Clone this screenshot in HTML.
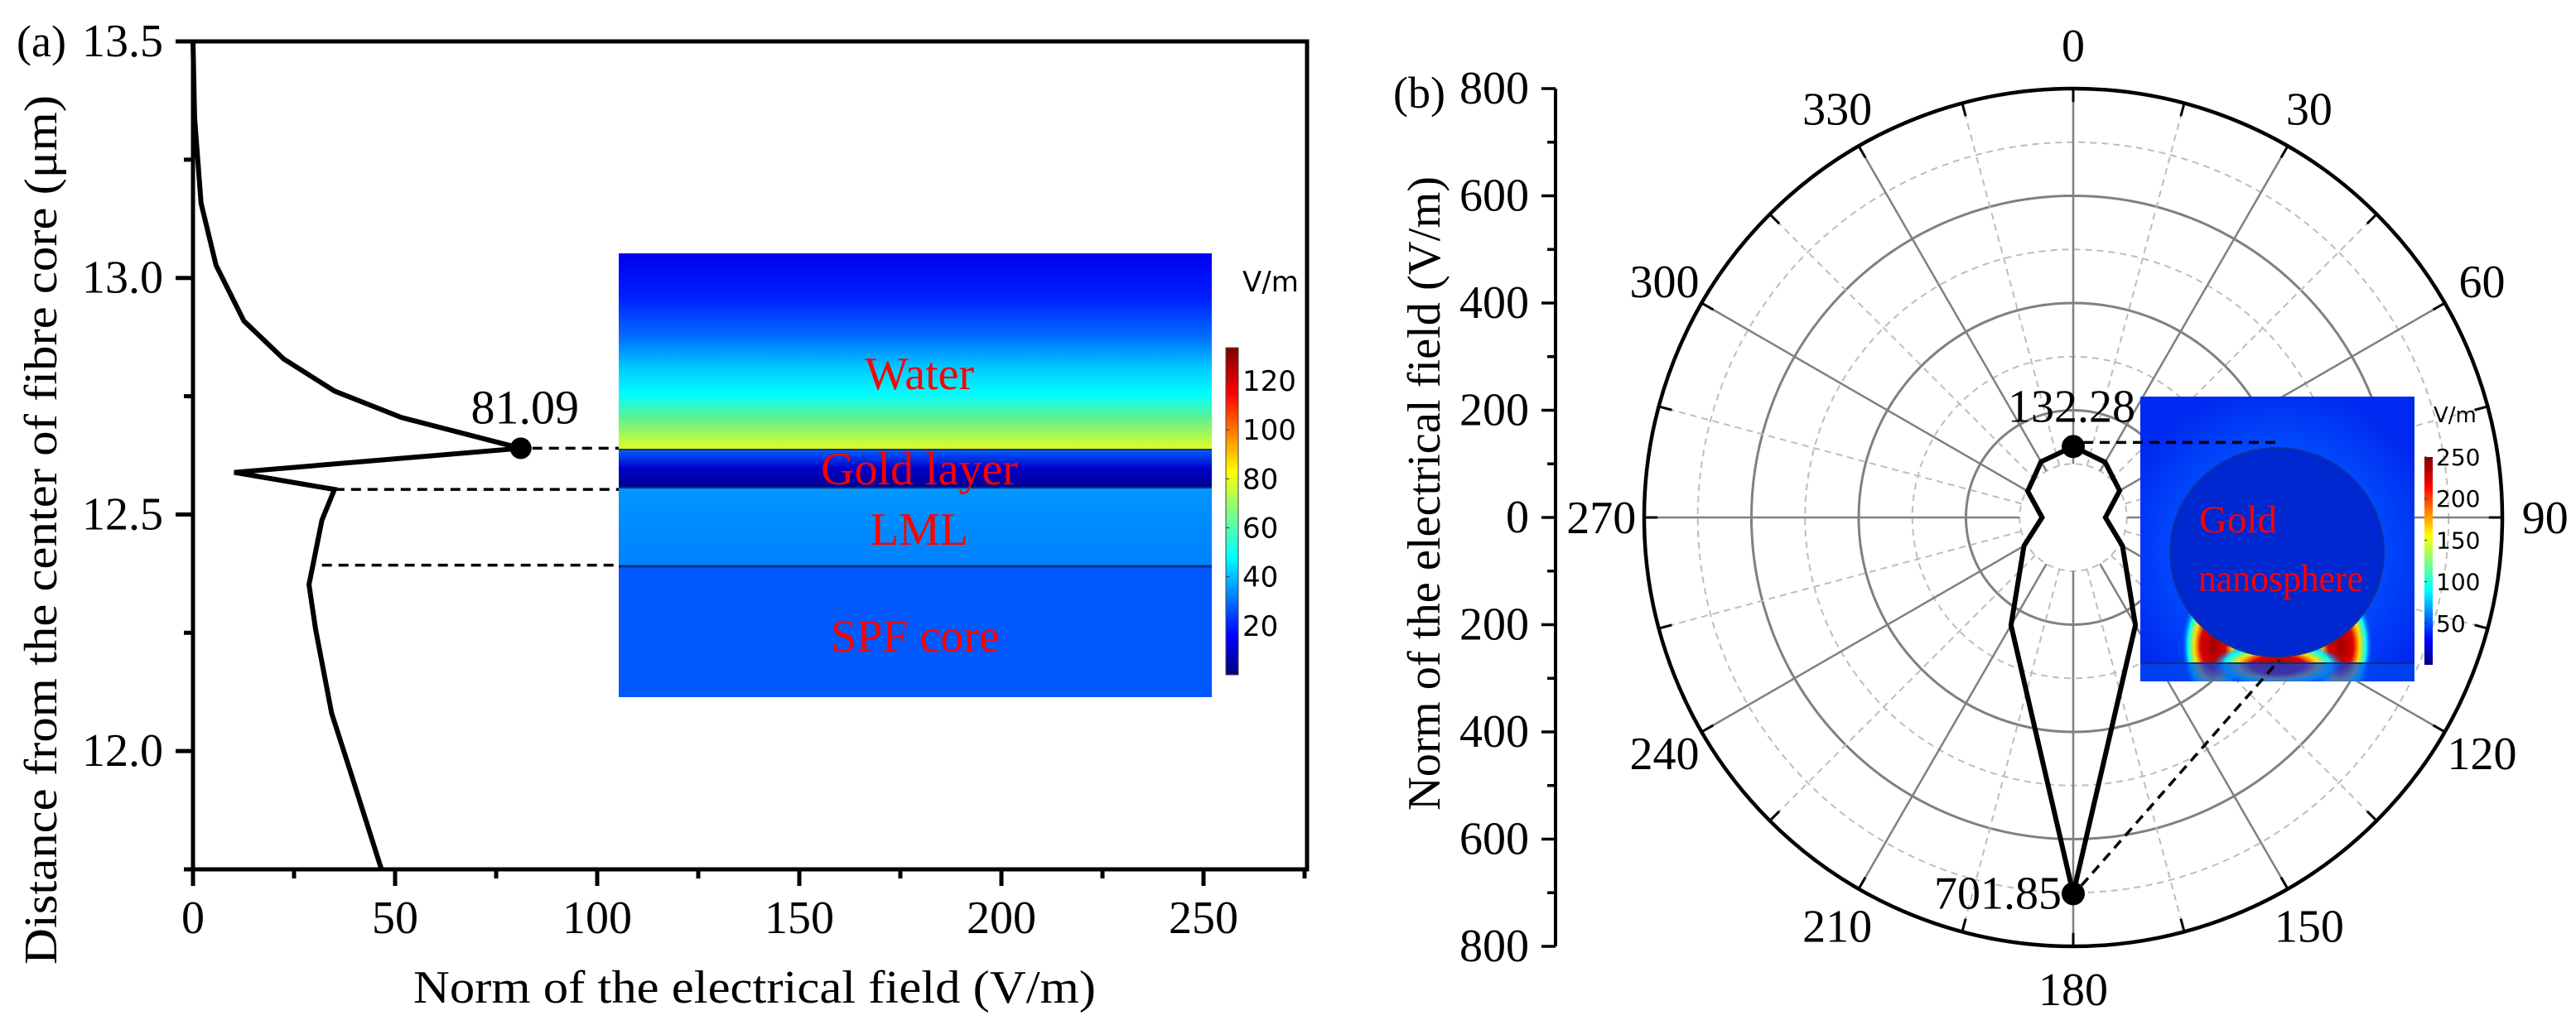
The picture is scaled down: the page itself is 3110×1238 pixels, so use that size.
<!DOCTYPE html>
<html><head><meta charset="utf-8"><style>
html,body{margin:0;padding:0;background:#fff;}
svg{display:block;font-family:"Liberation Serif",serif;}
</style></head><body>
<svg id="fig" width="3110" height="1238" viewBox="0 0 3110 1238" xmlns="http://www.w3.org/2000/svg">
<defs>
<linearGradient id="waterG" x1="0" y1="0" x2="0" y2="1">
<stop offset="0" stop-color="#0000ee"/><stop offset="0.23" stop-color="#0020ff"/><stop offset="0.43" stop-color="#0070ff"/><stop offset="0.58" stop-color="#00c8ff"/><stop offset="0.72" stop-color="#00ffff"/><stop offset="0.84" stop-color="#60f090"/><stop offset="1" stop-color="#e0ff20"/>
</linearGradient>
<linearGradient id="goldG" x1="0" y1="0" x2="0" y2="1">
<stop offset="0" stop-color="#0060ff"/><stop offset="0.5" stop-color="#0000c8"/><stop offset="1" stop-color="#000090"/>
</linearGradient>
<linearGradient id="lmlG" x1="0" y1="0" x2="0" y2="1">
<stop offset="0" stop-color="#0096ff"/><stop offset="1" stop-color="#0080ff"/>
</linearGradient>
<linearGradient id="jet" x1="0" y1="1" x2="0" y2="0">
<stop offset="0" stop-color="#000080"/><stop offset="0.12" stop-color="#0000ff"/><stop offset="0.36" stop-color="#00ffff"/><stop offset="0.5" stop-color="#80ff80"/><stop offset="0.62" stop-color="#ffff00"/><stop offset="0.86" stop-color="#ff0000"/><stop offset="1" stop-color="#800000"/>
</linearGradient>
<radialGradient id="bgB" cx="0.5" cy="0.55" r="0.6">
<stop offset="0.55" stop-color="#0050ff"/><stop offset="1" stop-color="#0028f0"/>
</radialGradient>
<radialGradient id="hotL" cx="0.5" cy="0.5" r="0.5">
<stop offset="0" stop-color="#a00000"/><stop offset="0.4" stop-color="#e00000"/><stop offset="0.6" stop-color="#ffe000"/><stop offset="0.8" stop-color="#00ffff"/><stop offset="1" stop-color="#0050ff" stop-opacity="0"/>
</radialGradient>
<clipPath id="clipB"><rect x="2584" y="479" width="331" height="344"/></clipPath>
</defs>

<g id="panelA">
<text x="20" y="68" font-size="54">(a)</text>
<g>
<rect x="747" y="306" width="716" height="237" fill="url(#waterG)"/>
<rect x="747" y="543" width="716" height="46" fill="url(#goldG)"/>
<rect x="747" y="589" width="716" height="95" fill="url(#lmlG)"/>
<rect x="747" y="684" width="716" height="158" fill="#0058ff"/>
<line x1="747" y1="543" x2="1463" y2="543" stroke="#203080" stroke-width="2"/>
<line x1="747" y1="589" x2="1463" y2="589" stroke="#103070" stroke-width="2"/>
<line x1="747" y1="684" x2="1463" y2="684" stroke="#003080" stroke-width="3"/>
<text x="1110" y="470" font-size="56" fill="#ff0000" text-anchor="middle">Water</text>
<text x="1110" y="585" font-size="56" fill="#ff0000" text-anchor="middle">Gold layer</text>
<text x="1110" y="658" font-size="56" fill="#ff0000" text-anchor="middle">LML</text>
<text x="1105" y="787" font-size="56" fill="#ff0000" text-anchor="middle">SPF core</text>
<rect x="1480" y="420" width="15" height="395" fill="url(#jet)" stroke="#444" stroke-width="1"/>
<text x="1500" y="352" font-size="34" font-family="DejaVu Sans, sans-serif">V/m</text>
<g id="cbA" font-size="34" font-family="DejaVu Sans, sans-serif"></g>
</g>
<g id="axesA"></g>
</g>

<g id="panelB">
<text x="1682" y="130" font-size="54">(b)</text>
<g id="gridB"></g>
<g id="axesB"></g>
<g clip-path="url(#clipB)">
<rect x="2584" y="479" width="331" height="344" fill="url(#bgB)"/>
<ellipse cx="2672" cy="780" rx="38" ry="70" fill="url(#hotL)"/>
<ellipse cx="2826" cy="780" rx="38" ry="70" fill="url(#hotL)"/>
<ellipse cx="2750" cy="803" rx="80" ry="28" fill="url(#hotL)"/>
<rect x="2584" y="802" width="331" height="21" fill="#0048f0" opacity="0.7"/>
<line x1="2584" y1="801" x2="2915" y2="801" stroke="#103070" stroke-width="2"/>
<ellipse cx="2749" cy="667" rx="129" ry="126" fill="#0028d0" stroke="#1030a0" stroke-width="2"/>
<text x="2655" y="643" font-size="47" fill="#ff0000">Gold</text>
<text x="2654" y="714" font-size="47" fill="#ff0000" textLength="199" lengthAdjust="spacingAndGlyphs">nanosphere</text>
</g>
<rect x="2927" y="552" width="10" height="251" fill="url(#jet)"/>
<text x="2938" y="510" font-size="26" font-family="DejaVu Sans, sans-serif">V/m</text>
<g id="cbB" font-size="28" font-family="DejaVu Sans, sans-serif"></g>
<g id="seriesB"></g>
</g>
</svg>
<script>
const aField = [0, 0.4, 2.0, 5.7, 12.6, 22.4, 35.0, 51.6, 81.09, 10.2, 35.0, 31.9, 28.7, 30.3, 34.3, 39.0, 46.7];
const aDist = [13.5, 13.338, 13.158, 13.027, 12.909, 12.829, 12.761, 12.705, 12.640, 12.589, 12.553, 12.488, 12.352, 12.259, 12.080, 11.955, 11.748];
const aXTicks = [0, 50, 100, 150, 200, 250];
const aYTicks = [12.0, 12.5, 13.0, 13.5];
const aYTickLabels = ["12.0", "12.5", "13.0", "13.5"];
const aPeakLabel = ["81.09"];
const aLayerBounds = [12.640, 12.553, 12.393];
const aCbTicks = [20, 40, 60, 80, 100, 120];
const bAngles = [0, 30, 60, 90, 120, 150, 180, 210, 240, 270, 300, 330];
const bValues = [132.28, 119, 100, 60, 106, 232, 701.85, 232, 106, 58, 98, 120];
const bRTicks = [800, 600, 400, 200, 0, 200, 400, 600, 800];
const bAngleLabels = ["0","30","60","90","120","150","180","210","240","270","300","330"];
const bCbTicks = [50, 100, 150, 200, 250];

const NS = "http://www.w3.org/2000/svg";
function mk(tag, attrs, parent){const e=document.createElementNS(NS,tag);for(const k in attrs)e.setAttribute(k,attrs[k]);parent.appendChild(e);return e;}

const ax0=233, ax1=1578, ay0=50, ay1=1050;
const xA=v=>ax0+(v-0)*(721-233)/100;
const yA=v=>ay0+(13.5-v)*(1050-50)/1.75;
const gA=document.getElementById('axesA');
let fr=mk('rect',{x:ax0,y:ay0,width:ax1-ax0,height:ay1-ay0,fill:'none',stroke:'#000','stroke-width':5},gA);


for(let v=0; v<=275; v+=25){
  const major = v%50===0;
  const t=mk('line',{x1:xA(v),y1:ay1,x2:xA(v),y2:ay1+(major?20:11),stroke:'#000','stroke-width':5},gA);
  
  
}
aXTicks.forEach(v=>{
  const t=mk('text',{x:xA(v),y:1127,'font-size':56,'text-anchor':'middle'},gA);
  t.textContent=String(v);
  
  
});
for(let v=11.75; v<=13.5001; v+=0.25){
  const major=Math.abs(v*2-Math.round(v*2))<1e-6;
  const t=mk('line',{x1:ax0,y1:yA(v),x2:ax0-(major?21:11),y2:yA(v),stroke:'#000','stroke-width':5},gA);
  
  
}
aYTicks.forEach((v,i)=>{
  const t=mk('text',{x:197,y:yA(v)+18,'font-size':56,'text-anchor':'end'},gA);
  t.textContent=aYTickLabels[i];
  
  
});
let xt=mk('text',{x:911,y:1211,'font-size':56,'text-anchor':'middle',textLength:824,lengthAdjust:'spacingAndGlyphs'},gA);
xt.textContent='Norm of the electrical field (V/m)';


let yt=mk('text',{x:0,y:0,'font-size':56,'text-anchor':'middle',textLength:1050,lengthAdjust:'spacingAndGlyphs',transform:'translate(68,640) rotate(-90)'},gA);
yt.textContent='Distance from the center of fibre core (\u03bcm)';


const dashStarts=[aField[8], aField[10], aField[11]];
aLayerBounds.forEach((b,i)=>{
  const l=mk('line',{x1:xA(dashStarts[i])+(i===0?14:0),y1:yA(b),x2:747,y2:yA(b),stroke:'#000','stroke-width':3.5,'stroke-dasharray':'12 8'},gA);
  
  
});
let pa=mk('polyline',{points:aField.map((v,i)=>xA(v)+','+yA(aDist[i])).join(' '),fill:'none',stroke:'#000','stroke-width':6,'stroke-linejoin':'miter'},gA);


let dA=mk('circle',{cx:xA(aField[8]),cy:yA(aDist[8]),r:13,fill:'#000'},gA);


let lA=mk('text',{x:xA(aField[8])+5,y:yA(aDist[8])-30,'font-size':58,'text-anchor':'middle'},gA);
lA.textContent=aPeakLabel[0];


const cbA=document.getElementById('cbA');
const cbAy=v=>815-(v/133.5)*395;
aCbTicks.forEach(v=>{
  const t=mk('text',{x:1500,y:cbAy(v)+12},cbA);
  t.textContent=String(v);
  
  
  mk('line',{x1:1480,y1:cbAy(v),x2:1484,y2:cbAy(v),stroke:'#333','stroke-width':1},cbA);
});

const cx=2503, cy=625, Rmax=800, Rpx=518;
const rS=v=>v/Rmax*Rpx;
const pt=(r,deg)=>{const a=deg*Math.PI/180;return [cx+rS(r)*Math.sin(a), cy-rS(r)*Math.cos(a)];};
const gG=document.getElementById('gridB');
[100,200,300,400,500,600,700].forEach(r=>{
  const solid=r%200===0;
  const c=mk('circle',{cx:cx,cy:cy,r:rS(r),fill:'none',stroke:solid?'#808080':'#bdbdbd','stroke-width':solid?3:2,'stroke-dasharray':solid?'none':'8 6'},gG);
  
  
});
for(let d=0; d<360; d+=15){
  const solid=d%30===0;
  const p1=pt(100,d), p2=pt(800,d);
  const l=mk('line',{x1:p1[0],y1:p1[1],x2:p2[0],y2:p2[1],stroke:solid?'#808080':'#bdbdbd','stroke-width':solid?2.5:2,'stroke-dasharray':solid?'none':'8 6'},gG);
  
  
  const q1=pt(775,d);
  mk('line',{x1:q1[0],y1:q1[1],x2:p2[0],y2:p2[1],stroke:'#000','stroke-width':3},gG);
}
let oc=mk('circle',{cx:cx,cy:cy,r:rS(800),fill:'none',stroke:'#000','stroke-width':4.5},gG);


bAngles.forEach((d,i)=>{
  const p=pt(880,d);
  const t=mk('text',{x:p[0],y:p[1]+19,'font-size':56,'text-anchor':'middle'},gG);
  t.textContent=bAngleLabels[i];
  
  
});
const gB=document.getElementById('axesB');
const axX=1878, yTop=cy-rS(800);
let al=mk('line',{x1:axX,y1:yTop,x2:axX,y2:cy+rS(800),stroke:'#000','stroke-width':4},gB);


for(let k=0;k<=16;k++){
  const y=yTop+k*rS(100);
  const major=k%2===0;
  mk('line',{x1:axX,y1:y,x2:axX-(major?17:10),y2:y,stroke:'#000','stroke-width':3.5},gB);
}
bRTicks.forEach((v,k)=>{
  const y=yTop+k*rS(200);
  const t=mk('text',{x:1846,y:y+18,'font-size':56,'text-anchor':'end'},gB);
  t.textContent=String(v);
  
  
});
let ytb=mk('text',{x:0,y:0,'font-size':56,'text-anchor':'middle',textLength:766,lengthAdjust:'spacingAndGlyphs',transform:'translate(1738,596) rotate(-90)'},gB);
ytb.textContent='Norm of the electrical field (V/m)';


const cbB=document.getElementById('cbB');
const cbBy=v=>803-(v/250)*251;
bCbTicks.forEach(v=>{
  const t=mk('text',{x:2941,y:cbBy(v)+10},cbB);
  t.textContent=String(v);
  
  
  mk('line',{x1:2927,y1:cbBy(v),x2:2930,y2:cbBy(v),stroke:'#333','stroke-width':1},cbB);
});
const sB=document.getElementById('seriesB');
const pts=bAngles.map((d,i)=>pt(bValues[i],d));
let pg=mk('polygon',{points:pts.map(p=>p[0]+','+p[1]).join(' '),fill:'none',stroke:'#000','stroke-width':6},sB);


const iTop=0, iBot=6;
const pT=pt(bValues[iTop],bAngles[iTop]), pB=pt(bValues[iBot],bAngles[iBot]);
let d1=mk('line',{x1:pT[0]+12,y1:pT[1]-5,x2:2755,y2:pT[1]-5,stroke:'#000','stroke-width':3.5,'stroke-dasharray':'12 8'},sB);


let d2=mk('line',{x1:pB[0]+10,y1:pB[1]-10,x2:2752,y2:797,stroke:'#000','stroke-width':3.5,'stroke-dasharray':'12 8'},sB);


[[pT,bValues[iTop],'top'],[pB,bValues[iBot],'bottom']].forEach(([p,v,n])=>{
  const c=mk('circle',{cx:p[0],cy:p[1],r:14,fill:'#000'},sB);
  
  
  const t=mk('text',{x:n==='top'?p[0]-2:p[0]-14,y:n==='top'?p[1]-30:p[1]+18,'font-size':56,'text-anchor':n==='top'?'middle':'end'},sB);
  t.textContent=v.toFixed(2);
  
  
});
</script>
</body></html>
